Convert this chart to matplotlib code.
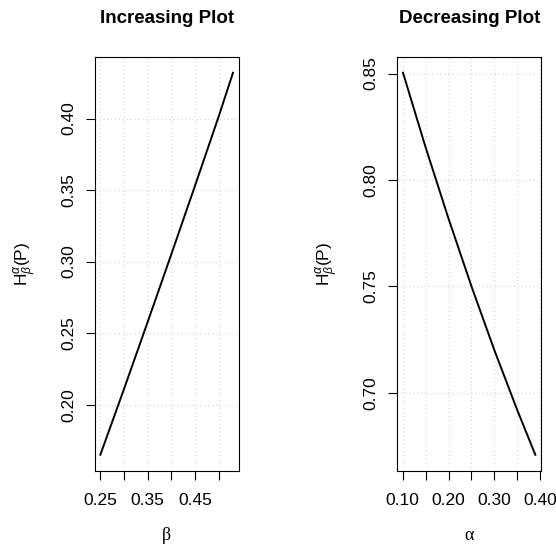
import matplotlib
matplotlib.use("Agg")
import matplotlib.pyplot as plt

# ---- data ----
beta_vals = [0.25, 0.30, 0.35, 0.40, 0.45, 0.50, 0.5306]
h_beta = [0.1644, 0.2105, 0.2575, 0.3050, 0.3530, 0.4015, 0.4326]

alpha_vals = [0.10, 0.15, 0.20, 0.25, 0.30, 0.35, 0.39]
h_alpha = [0.8508, 0.8153, 0.7818, 0.7500, 0.7200, 0.6918, 0.6705]

left_xticks = [0.25, 0.30, 0.35, 0.40, 0.45, 0.50]
left_xlabels = ["0.25", "", "0.35", "", "0.45", ""]
left_yticks = [0.20, 0.25, 0.30, 0.35, 0.40]
left_ylabels = ["0.20", "0.25", "0.30", "0.35", "0.40"]

right_xticks = [0.10, 0.15, 0.20, 0.25, 0.30, 0.35, 0.40]
right_xlabels = ["0.10", "", "0.20", "", "0.30", "", "0.40"]
right_yticks = [0.70, 0.75, 0.80, 0.85]
right_ylabels = ["0.70", "0.75", "0.80", "0.85"]

titles = ["Increasing Plot", "Decreasing Plot"]
xlabels = ["\u03b2", "\u03b1"]
ylabel = r"$\mathrm{H}_{\beta}^{\alpha}\mathrm{(P)}$"

plt.rcParams["font.family"] = ["Liberation Sans", "DejaVu Sans"]
plt.rcParams["mathtext.fontset"] = "custom"
plt.rcParams["mathtext.rm"] = "Liberation Sans"
plt.rcParams["mathtext.it"] = "Liberation Sans:italic"
plt.rcParams["mathtext.bf"] = "Liberation Sans:bold"

W, H = 556, 545
fig = plt.figure(figsize=(W / 100, H / 100), dpi=100)

def frac(x0, y0, x1, y1):
    return [x0 / W, 1 - y1 / H, (x1 - x0) / W, (y1 - y0) / H]

ax1 = fig.add_axes(frac(94.7, 56.5, 238.6, 471))
ax2 = fig.add_axes(frac(397.4, 56.5, 541.0, 471))

panels = [
    (ax1, beta_vals, h_beta, left_xticks, left_xlabels, left_yticks, left_ylabels),
    (ax2, alpha_vals, h_alpha, right_xticks, right_xlabels, right_yticks, right_ylabels),
]

for i, (ax, xs, ys, xt, xl, yt, yl) in enumerate(panels):
    ax.plot(xs, ys, color="black", lw=1.4, solid_capstyle="butt", zorder=3)
    ax.margins(x=0.04, y=0.04)
    ax.set_xticks(xt)
    ax.set_xticklabels(xl)
    ax.set_yticks(yt)
    ax.set_yticklabels(yl, rotation=90, va="center")
    ax.tick_params(axis="both", direction="out", length=6.5, width=0.8,
                   labelsize=12.5, color="black", pad=9)
    ax.tick_params(axis="y", pad=7)
    ax.grid(True, color="lightgray", linestyle=(0, (1, 2.5)), linewidth=0.8)
    for s in ax.spines.values():
        s.set_color("black")
        s.set_linewidth(0.8)
    ax.set_title(titles[i], fontsize=13.5, fontweight="bold", pad=24)
    ax.set_xlabel(xlabels[i], fontsize=13, family=["Liberation Serif", "DejaVu Serif"],
                  labelpad=14)
    ax.set_ylabel(ylabel, fontsize=12.5, labelpad=16)

fig.savefig("out.png", dpi=100)
